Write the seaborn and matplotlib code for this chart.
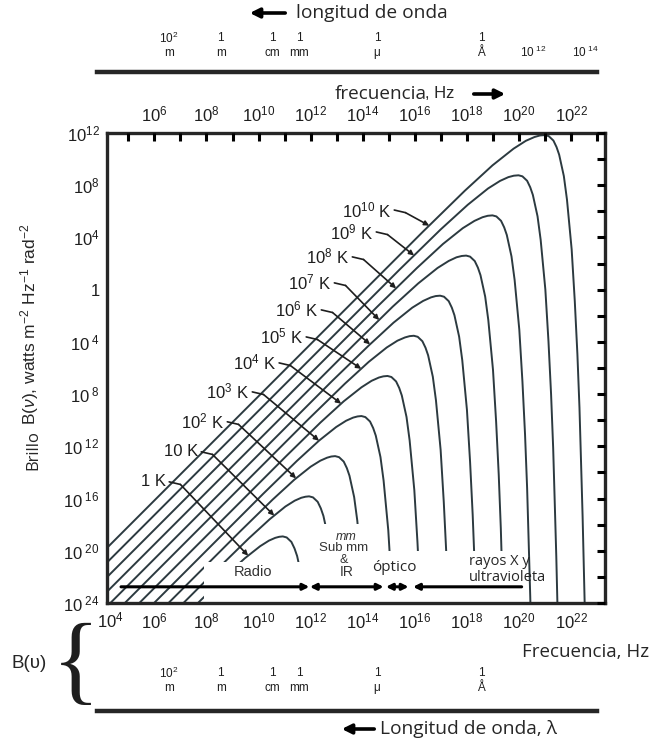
import numpy as np
import pandas as pd
import matplotlib

matplotlib.use("Agg")
import matplotlib.pyplot as plt
import seaborn as sns
from matplotlib.patches import Rectangle, FancyArrowPatch
from matplotlib.ticker import FixedLocator, NullLocator

# curve labels, lowest to highest temperature
temp_labels = ["1 K", "10 K", r"$10^2$ K", r"$10^3$ K", r"$10^4$ K", r"$10^5$ K",
               r"$10^6$ K", r"$10^7$ K", r"$10^8$ K", r"$10^9$ K", r"$10^{10}$ K"]

# log10 frequency (Hz) / log10 brightness
log_nu_1K = [3.90, 7.54, 8.70, 9.47, 10.06, 10.40, 10.64, 10.79, 10.93, 11.08, 11.26, 11.38, 11.48, 11.66, 11.78, 11.96]
log_b_1K = [-31.51, -24.26, -21.99, -20.58, -19.65, -19.22, -19.01, -18.93, -18.90, -18.98, -19.32, -19.82, -20.40, -22.04, -23.84, -27.65]
log_nu_10K = [3.90, 8.42, 9.63, 10.43, 11.03, 11.39, 11.64, 11.80, 11.94, 12.09, 12.27, 12.39, 12.49, 12.67, 12.79, 12.97]
log_b_10K = [-30.41, -21.40, -19.04, -17.58, -16.61, -16.16, -15.94, -15.86, -15.83, -15.91, -16.25, -16.75, -17.33, -18.97, -20.77, -24.58]
log_nu_1e2K = [3.90, 9.29, 10.54, 11.37, 12.00, 12.37, 12.63, 12.79, 12.94, 13.09, 13.27, 13.39, 13.49, 13.67, 13.79, 13.97, 14.09]
log_b_1e2K = [-29.27, -18.52, -16.08, -14.56, -13.56, -13.10, -12.87, -12.78, -12.75, -12.83, -13.17, -13.67, -14.25, -15.89, -17.69, -21.50, -25.47]
log_nu_1e3K = [3.90, 10.17, 11.47, 12.33, 12.98, 13.36, 13.63, 13.80, 13.95, 14.10, 14.28, 14.40, 14.50, 14.68, 14.80, 14.98, 15.10, 15.20]
log_b_1e3K = [-28.17, -15.65, -13.12, -11.55, -10.52, -10.04, -9.80, -9.71, -9.68, -9.76, -10.10, -10.60, -11.18, -12.82, -14.62, -18.43, -22.40, -26.45]
log_nu_1e4K = [3.90, 11.04, 12.38, 13.27, 13.95, 14.34, 14.62, 14.79, 14.95, 15.10, 15.28, 15.40, 15.50, 15.68, 15.80, 15.98, 16.10, 16.20, 16.28]
log_b_1e4K = [-27.04, -12.79, -10.17, -8.55, -7.48, -6.98, -6.73, -6.64, -6.61, -6.69, -7.03, -7.53, -8.11, -9.75, -11.55, -15.36, -19.33, -23.38, -27.49]
log_nu_1e5K = [3.90, 11.92, 13.31, 14.23, 14.92, 15.33, 15.62, 15.80, 15.96, 16.11, 16.29, 16.41, 16.51, 16.69, 16.81, 16.99, 17.11, 17.21, 17.29, 17.35]
log_b_1e5K = [-25.93, -9.91, -7.21, -5.53, -4.43, -3.91, -3.66, -3.56, -3.53, -3.61, -3.95, -4.45, -5.03, -6.67, -8.47, -12.28, -16.25, -20.30, -24.41, -28.55]
log_nu_1e6K = [3.90, 12.80, 14.24, 15.18, 15.90, 16.32, 16.62, 16.80, 16.97, 17.12, 17.30, 17.42, 17.52, 17.70, 17.82, 18.00, 18.12, 18.22, 18.30, 18.36]
log_b_1e6K = [-24.82, -7.04, -4.26, -2.53, -1.38, -0.86, -0.59, -0.49, -0.46, -0.54, -0.88, -1.38, -1.96, -3.60, -5.40, -9.21, -13.18, -17.23, -21.34, -25.48]
log_nu_1e7K = [3.90, 13.68, 15.15, 16.13, 16.87, 17.30, 17.60, 17.80, 17.97, 18.12, 18.30, 18.42, 18.52, 18.70, 18.82, 19.00, 19.12, 19.22, 19.30, 19.36, 19.42]
log_b_1e7K = [-23.70, -4.18, -1.30, 0.48, 1.66, 2.20, 2.48, 2.58, 2.61, 2.53, 2.19, 1.69, 1.11, -0.53, -2.33, -6.14, -10.11, -14.16, -18.27, -22.41, -26.58]
log_nu_1e8K = [3.90, 14.56, 16.08, 17.08, 17.84, 18.29, 18.60, 18.80, 18.98, 19.13, 19.31, 19.43, 19.53, 19.71, 19.83, 20.01, 20.13, 20.23, 20.31, 20.37, 20.43, 20.48]
log_b_1e8K = [-22.58, -1.30, 1.66, 3.50, 4.71, 5.27, 5.55, 5.66, 5.69, 5.61, 5.27, 4.77, 4.19, 2.55, 0.75, -3.06, -7.03, -11.08, -15.19, -19.33, -23.50, -27.69]
log_nu_1e9K = [3.90, 15.43, 16.99, 18.03, 18.81, 19.27, 19.59, 19.80, 19.98, 20.13, 20.31, 20.43, 20.53, 20.71, 20.83, 21.01, 21.13, 21.23, 21.31, 21.37, 21.43, 21.48]
log_b_1e9K = [-21.46, 1.57, 4.61, 6.50, 7.75, 8.33, 8.62, 8.73, 8.76, 8.68, 8.34, 7.84, 7.26, 5.62, 3.82, 0.01, -3.96, -8.01, -12.12, -16.26, -20.43, -24.62]
log_nu_1e10K = [3.90, 16.31, 17.92, 18.98, 19.79, 20.26, 20.59, 20.80, 20.99, 21.14, 21.32, 21.44, 21.54, 21.72, 21.84, 22.02, 22.14, 22.24, 22.32, 22.38, 22.44, 22.49, 22.54]
log_b_1e10K = [-20.34, 4.44, 7.58, 9.52, 10.80, 11.40, 11.69, 11.81, 11.84, 11.76, 11.42, 10.92, 10.34, 8.70, 6.90, 3.09, -0.88, -4.93, -9.04, -13.18, -17.35, -21.54, -25.74]

# label anchors (right end of text) and leader tips, log10 units
label_log_nu = [6.45, 7.68, 8.68, 9.64, 10.67, 11.71, 12.29, 12.79, 13.48, 14.40, 15.09]
label_log_b = [-14.72, -12.42, -10.12, -7.83, -5.61, -3.62, -1.55, 0.52, 2.51, 4.42, 6.10]
tip_log_nu = [9.60, 10.60, 11.44, 12.32, 13.17, 13.94, 14.28, 14.63, 15.28, 15.97, 16.55]

# axis tick labels
freq_exponents = [6, 8, 10, 12, 14, 16, 18, 20, 22]
brightness_labels = [r"$10^{12}$", r"$10^{8}$", r"$10^{4}$", "1", r"$10^{\ 4}$", r"$10^{\ 8}$",
                     r"$10^{\ 12}$", r"$10^{\ 16}$", r"$10^{\ 20}$", r"$10^{\ 24}$"]
wave_exponents = [2, 0, -2, -3, -6, -10]
wave_top = [r"$10^2$", "1", "1", "1", "1", "1"]
wave_unit = ["m", "m", "cm", "mm", "\u03bc", "\u00c5"]

# spectral bands along the bottom (log10 Hz)
band_start = [4.72, 11.97, 14.89, 15.93]
band_end = [11.95, 14.80, 15.76, 20.10]

W, H = 651, 744
CURVE = "#2c3a40"
INK = "#1e1e1e"


def fx(x):
    return x / W


def fy(y):
    return 1 - y / H


def fig_arrow(fig, x0, y0, x1, y1):
    fig.add_artist(FancyArrowPatch((fx(x0), fy(y0)), (fx(x1), fy(y1)), transform=fig.transFigure,
                                   arrowstyle="-|>", mutation_scale=14, lw=2.6, color="black"))


def wave_strip(fig, y_line, rows, extra=()):
    ax = fig.add_axes([fx(97), fy(y_line), 500 / W, 42 / H])
    ax.set_xscale("log")
    ax.set_xlim(10 ** 4.754, 10 ** -14.45)
    ax.set_ylim(0, 1)
    for s in ["top", "left", "right"]:
        ax.spines[s].set_visible(False)
    ax.spines["bottom"].set_linewidth(3.2)
    ax.xaxis.set_major_locator(FixedLocator([10.0 ** n for n in range(4, -15, -2)]))
    ax.xaxis.set_minor_locator(FixedLocator([10.0 ** n for n in range(3, -15, -2)]))
    ax.tick_params(axis="x", which="major", direction="in", length=7, width=2.2, labelbottom=False)
    ax.tick_params(axis="x", which="minor", direction="in", length=4, width=2.2, labelbottom=False)
    ax.set_yticks([])
    tr = ax.get_xaxis_transform()
    for n, top, unit in zip(wave_exponents, wave_top, wave_unit):
        ax.text(10.0 ** n, rows[0], top, transform=tr, ha="center", va="center", fontsize=8.5, color=INK)
        ax.text(10.0 ** n, rows[1], unit, transform=tr, ha="center", va="center", fontsize=8.5, color=INK)
    for n, txt in extra:
        ax.text(10.0 ** n, rows[1], txt, transform=tr, ha="center", va="center", fontsize=8.5, color=INK)
    return ax


def main():
    sns.set_style("white")
    plt.rcParams["font.family"] = ["Liberation Sans", "DejaVu Sans"]
    plt.rcParams["mathtext.fontset"] = "custom"
    plt.rcParams["mathtext.rm"] = "Liberation Sans"
    plt.rcParams["mathtext.it"] = "Liberation Sans:italic"

    curves = [(log_nu_1K, log_b_1K), (log_nu_10K, log_b_10K), (log_nu_1e2K, log_b_1e2K),
              (log_nu_1e3K, log_b_1e3K), (log_nu_1e4K, log_b_1e4K), (log_nu_1e5K, log_b_1e5K),
              (log_nu_1e6K, log_b_1e6K), (log_nu_1e7K, log_b_1e7K), (log_nu_1e8K, log_b_1e8K),
              (log_nu_1e9K, log_b_1e9K), (log_nu_1e10K, log_b_1e10K)]
    frames = []
    for i, (ln, lb) in enumerate(curves):
        frames.append(pd.DataFrame({"nu": 10.0 ** np.array(ln), "B": 10.0 ** np.array(lb), "curve": i}))
    df = pd.concat(frames, ignore_index=True)

    fig = plt.figure(figsize=(W / 100, H / 100), dpi=100)
    ax = fig.add_axes([fx(106.7), fy(603), 498.3 / W, 470 / H])
    sns.lineplot(data=df, x="nu", y="B", units="curve", estimator=None, sort=False,
                 color=CURVE, lw=1.4, ax=ax, legend=False, zorder=2)
    ax.set_xscale("log")
    ax.set_yscale("log")
    ax.set_xlim(10 ** 4.17, 10 ** 23.3)
    ax.set_ylim(1e-24, 1e12)
    ax.set_xlabel("")
    ax.set_ylabel("")

    # ticks and labels
    ax.xaxis.set_major_locator(FixedLocator([10.0 ** k for k in range(5, 24)]))
    ax.xaxis.set_minor_locator(NullLocator())
    ax.set_xticklabels(["$10^{%d}$" % k if k in freq_exponents else "" for k in range(5, 24)])
    yt = list(range(12, -25, -2))
    ax.yaxis.set_major_locator(FixedLocator([10.0 ** k for k in yt]))
    ax.yaxis.set_minor_locator(NullLocator())
    ylabs = iter(brightness_labels)
    ax.set_yticklabels([next(ylabs) if k % 4 == 0 else "" for k in yt])
    ax.tick_params(axis="both", which="major", direction="in", length=6, width=2.2,
                   top=True, right=True, labeltop=True, labelbottom=True, labelsize=12, colors="black")
    ax.tick_params(axis="x", pad=6, labelcolor=INK)
    ax.tick_params(axis="y", pad=5, labelcolor=INK)
    for s in ax.spines.values():
        s.set_linewidth(2.4)
        s.set_zorder(6)
    ax.xaxis.set_zorder(6)
    ax.yaxis.set_zorder(6)

    # white label panels over the curve tails
    for l0, l1, m0 in [(7.9, 12.02, -20.85), (12.02, 14.40, -17.94), (14.40, 20.16, -20.0)]:
        ax.add_patch(Rectangle((10 ** l0, 10 ** -24.5), 10 ** l1 - 10 ** l0, 10 ** m0 - 10 ** -24.5,
                               fc="white", ec="none", zorder=3))

    # temperature labels with leaders
    for i, (ln, lb) in enumerate(curves):
        lx, ly = label_log_nu[i], label_log_b[i]
        ax.text(10 ** lx, 10 ** ly, temp_labels[i], ha="right", va="center", fontsize=12,
                color=INK, zorder=5)
        bx, by = lx + 0.55, ly - 0.2
        ax.plot([10 ** (lx + 0.12), 10 ** bx], [10 ** ly, 10 ** by], color=INK, lw=1.2, zorder=5)
        tx = tip_log_nu[i]
        ty = np.interp(tx, ln, lb)
        ax.annotate("", xy=(10 ** tx, 10 ** ty), xytext=(10 ** bx, 10 ** by), zorder=5,
                    arrowprops=dict(arrowstyle="-|>", mutation_scale=7, lw=1.2, color=INK,
                                    shrinkA=0, shrinkB=0))

    # band arrows along the bottom
    y_arr = 10 ** -22.76
    styles = ["-|>", "<|-|>", "<|-|>", "<|-"]
    for s0, s1, st in zip(band_start, band_end, styles):
        ax.annotate("", xy=(10 ** s1, y_arr), xytext=(10 ** s0, y_arr), zorder=5,
                    arrowprops=dict(arrowstyle=st, mutation_scale=9, lw=2.2, color="black",
                                    shrinkA=0, shrinkB=0))
    ax.text(10 ** 9.8, 10 ** -21.6, "Radio", ha="center", va="center", fontsize=10.5, color="#333", zorder=5)
    ax.text(10 ** 13.37, 10 ** -18.93, "mm", ha="center", va="center", fontsize=9, style="italic", color="#333", zorder=5)
    ax.text(10 ** 13.26, 10 ** -19.78, "Sub mm", ha="center", va="center", fontsize=9.5, color="#333", zorder=5)
    ax.text(10 ** 13.28, 10 ** -20.7, "&", ha="center", va="center", fontsize=9, color="#333", zorder=5)
    ax.text(10 ** 13.37, 10 ** -21.61, "IR", ha="center", va="center", fontsize=10, color="#333", zorder=5)
    ax.text(10 ** 15.21, 10 ** -21.31, "\u00f3ptico", ha="center", va="center", fontsize=11,
            family="Open Sans", zorder=5)
    ax.text(10 ** 18.09, 10 ** -20.85, "rayos X y", ha="left", va="center", fontsize=10.5,
            family="Open Sans", zorder=5)
    ax.text(10 ** 18.09, 10 ** -22.07, "ultravioleta", ha="left", va="center", fontsize=10.5,
            family="Open Sans", zorder=5)

    # wavelength strips
    wave_strip(fig, 72, (0.80, 0.46), extra=[(-12, r"$10^{\ 12}$"), (-14, r"$10^{\ 14}$")])
    wave_strip(fig, 711, (0.9, 0.55))

    # figure texts
    fig.text(fx(296), fy(13), "longitud de onda", family="Open Sans", fontsize=13.8, va="center")
    fig_arrow(fig, 288, 13, 247, 13)
    fig.text(fx(335), fy(94), "frecuencia", family="Open Sans", fontsize=13.6, va="center")
    fig.text(fx(425), fy(94), ", Hz", fontsize=12, va="center")
    fig_arrow(fig, 471, 94, 508, 94)
    fig.text(fx(33), fy(450), "Brillo", family="Open Sans", fontsize=12, rotation=90, ha="center", va="center")
    fig.text(fx(30), fy(324), r"B($\nu$), watts m$^{-2}$ Hz$^{-1}$ rad$^{-2}$", fontsize=12.5,
             rotation=90, ha="center", va="center")
    fig.text(fx(110), fy(620), r"$10^{4}$", fontsize=12, ha="center", va="center", color=INK)
    fig.text(fx(29), fy(663), "B(\u03c5)", fontsize=13.5, ha="center", va="center")
    fig.text(fx(76), fy(668), "{", family="Liberation Serif", fontsize=72, ha="center", va="center",
             color=INK)
    fig.text(fx(522), fy(652), "Frecuencia, Hz", family="Open Sans", fontsize=13.5, va="center")
    fig.text(fx(380), fy(729), "Longitud de onda, \u03bb", family="Open Sans", fontsize=13.8, va="center")
    fig_arrow(fig, 377, 729, 339, 729)

    fig.savefig("out.png", dpi=100)


if __name__ == "__main__":
    main()
